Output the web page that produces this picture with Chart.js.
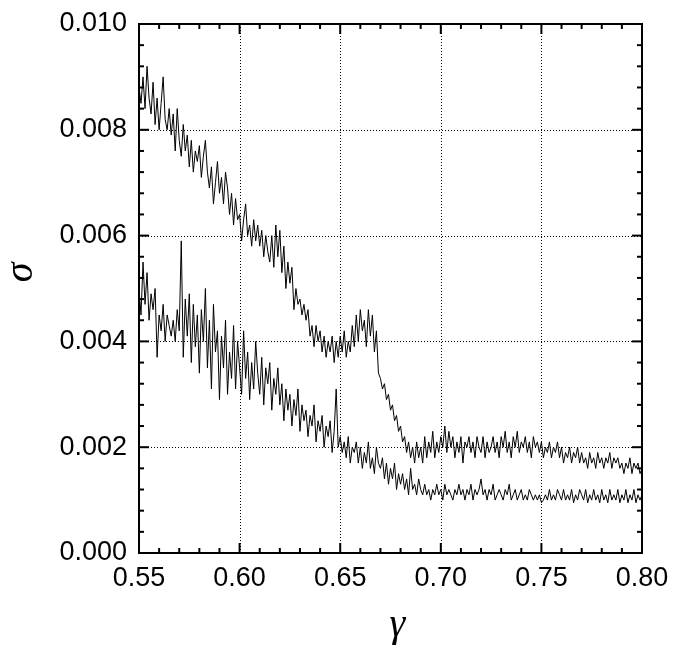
<!DOCTYPE html>
<html>
<head>
<meta charset="utf-8">
<script src="https://cdn.jsdelivr.net/npm/chart.js@4/dist/chart.umd.min.js"></script>
<style>
  html, body { margin: 0; padding: 0; background: #fff; }
  #grafico { display: block; }
</style>
</head>
<body>
<canvas id="grafico" width="673" height="652"></canvas>
<script>
// muestreo en gamma (eje x): 0.550 ... 0.800 cada 0.001
const gammaInicio = 0.55;
const gammaPaso = 0.001;

// curva superior (sigma)
const sigmaSuperior = [
  0.0088, 0.0085, 0.0090, 0.0084, 0.0092, 0.0086, 0.0083, 0.0089, 0.0081, 0.0086,
  0.0080, 0.0085, 0.0090, 0.0082, 0.0080, 0.0084, 0.0079, 0.0083, 0.0076, 0.0084,
  0.0078, 0.0075, 0.0081, 0.0076, 0.0079, 0.0073, 0.0078, 0.0072, 0.0076, 0.0074,
  0.0077, 0.0071, 0.0075, 0.0078, 0.0072, 0.0069, 0.0073, 0.0066, 0.0070, 0.0074,
  0.0068, 0.0071, 0.0066, 0.0072, 0.0069, 0.0064, 0.0068, 0.0062, 0.0067, 0.0063,
  0.0064, 0.0059, 0.0063, 0.0066, 0.0060, 0.0062, 0.0058, 0.0063, 0.0059, 0.0062,
  0.0058, 0.0061, 0.0056, 0.0060, 0.0057, 0.0055, 0.0060, 0.0054, 0.0062, 0.0056,
  0.0061, 0.0053, 0.0058, 0.0050, 0.0055, 0.0051, 0.0054, 0.0046, 0.0050, 0.0047,
  0.0048, 0.0045, 0.0047, 0.0044, 0.0046, 0.0041, 0.0043, 0.0039, 0.0043, 0.0040,
  0.0042, 0.0038, 0.0041, 0.0037, 0.0040, 0.0038, 0.0041, 0.0036, 0.0040, 0.0037,
  0.0041, 0.0038, 0.0042, 0.0037, 0.0040, 0.0038, 0.0043, 0.0039, 0.0045, 0.0040,
  0.0046, 0.0042, 0.0044, 0.0039, 0.0046, 0.0041, 0.0045, 0.0038, 0.0042, 0.0034,
  0.0033, 0.0031, 0.0032, 0.0029, 0.0030, 0.0027, 0.0028, 0.0025, 0.0026, 0.0023,
  0.0024, 0.0021, 0.0022, 0.0019, 0.0021, 0.0018, 0.0020, 0.0017, 0.0021, 0.0018,
  0.0020, 0.0017, 0.0022, 0.0018, 0.0021, 0.0019, 0.0023, 0.0018, 0.0021, 0.0019,
  0.0022, 0.0020, 0.0024, 0.0019, 0.0023, 0.0020, 0.0022, 0.0018, 0.0021, 0.0019,
  0.0022, 0.0017, 0.0021, 0.0020, 0.0022, 0.0019, 0.0021, 0.0018, 0.0022, 0.0020,
  0.0019, 0.0022, 0.0018, 0.0021, 0.0019, 0.0020, 0.0022, 0.0019, 0.0021, 0.0018,
  0.0022, 0.0020, 0.0023, 0.0019, 0.0021, 0.0018, 0.0022, 0.0020, 0.0023, 0.0019,
  0.0021, 0.0020, 0.0022, 0.0019, 0.0021, 0.0018, 0.0022, 0.0020, 0.0021, 0.0019,
  0.0021, 0.0018, 0.0020, 0.0019, 0.0021, 0.0018, 0.0020, 0.0019, 0.0021, 0.0018,
  0.0020, 0.0017, 0.0019, 0.0018, 0.0020, 0.0017, 0.0019, 0.0018, 0.0020, 0.0017,
  0.0019, 0.0017, 0.0018, 0.0016, 0.0019, 0.0017, 0.0018, 0.0016, 0.0019, 0.0017,
  0.0018, 0.0016, 0.0018, 0.0017, 0.0019, 0.0016, 0.0018, 0.0017, 0.0018, 0.0016,
  0.0017, 0.0015, 0.0017, 0.0016, 0.0018, 0.0015, 0.0017, 0.0016, 0.0017, 0.0015,
  0.0016
];

// curva inferior (sigma)
const sigmaInferior = [
  0.0050, 0.0045, 0.0055, 0.0047, 0.0053, 0.0044, 0.0049, 0.0046, 0.0050, 0.0037,
  0.0045, 0.0042, 0.0047, 0.0040, 0.0045, 0.0043, 0.0041, 0.0044, 0.0040, 0.0046,
  0.0042, 0.0059, 0.0037, 0.0048, 0.0041, 0.0049, 0.0036, 0.0047, 0.0039, 0.0045,
  0.0034, 0.0046, 0.0040, 0.0050, 0.0035, 0.0044, 0.0031, 0.0047, 0.0038, 0.0042,
  0.0029, 0.0041, 0.0035, 0.0044, 0.0030, 0.0038, 0.0033, 0.0043, 0.0031, 0.0040,
  0.0035, 0.0030, 0.0042, 0.0033, 0.0038, 0.0029, 0.0036, 0.0031, 0.0040, 0.0034,
  0.0030, 0.0037, 0.0028, 0.0035, 0.0032, 0.0036, 0.0027, 0.0033, 0.0030, 0.0035,
  0.0028, 0.0032, 0.0025, 0.0031, 0.0027, 0.0030, 0.0024, 0.0029, 0.0026, 0.0031,
  0.0023, 0.0028, 0.0025, 0.0027, 0.0022, 0.0026, 0.0024, 0.0028, 0.0021, 0.0025,
  0.0023, 0.0026, 0.0020, 0.0024, 0.0022, 0.0025, 0.0019, 0.0023, 0.0031, 0.0020,
  0.0022, 0.0019, 0.0021, 0.0018, 0.0022, 0.0017, 0.0020, 0.0019, 0.0021, 0.0017,
  0.0020, 0.0016, 0.0019, 0.0017, 0.0021, 0.0016, 0.0018, 0.0015, 0.0020, 0.0017,
  0.0016, 0.0018, 0.0014, 0.0017, 0.0013, 0.0016, 0.0014, 0.0017, 0.0012, 0.0015,
  0.0013, 0.0015, 0.0012, 0.0014, 0.0011, 0.0016, 0.0012, 0.0013, 0.0011, 0.0014,
  0.0012, 0.0011, 0.0013, 0.0011, 0.0012, 0.0010, 0.0012, 0.0011, 0.0013, 0.0011,
  0.0012, 0.0010, 0.0013, 0.0011, 0.0012, 0.0011, 0.0010, 0.0012, 0.0011, 0.0013,
  0.0011, 0.0012, 0.0010, 0.0012, 0.0011, 0.0013, 0.0010, 0.0012, 0.0011, 0.0012,
  0.0014, 0.0011, 0.0012, 0.0010, 0.0012, 0.0011, 0.0013, 0.0010, 0.0011, 0.0012,
  0.0011, 0.0010, 0.0012, 0.0011, 0.0013, 0.0010, 0.0011, 0.0012, 0.0010, 0.0011,
  0.0012, 0.0010, 0.0011, 0.0010, 0.0012, 0.0011, 0.0010, 0.0011, 0.0010, 0.0011,
  0.00095, 0.0010, 0.0011, 0.0010, 0.0012, 0.0010, 0.0011, 0.0010, 0.0012, 0.0011,
  0.0010, 0.0012, 0.0010, 0.0011, 0.0010, 0.0012, 0.00095, 0.0011, 0.0010, 0.0012,
  0.0011, 0.0010, 0.0012, 0.00095, 0.0011, 0.0010, 0.0012, 0.0010, 0.0011, 0.00095,
  0.0012, 0.0010, 0.0011, 0.00095, 0.0012, 0.0010, 0.0011, 0.0010, 0.0012, 0.00095,
  0.0011, 0.0010, 0.0012, 0.00095, 0.0011, 0.0010, 0.0012, 0.00095, 0.0011, 0.0010,
  0.0011
];

// etiquetas de los ejes
const ticksX = [0.55, 0.60, 0.65, 0.70, 0.75, 0.80];
const ticksY = [0, 0.002, 0.004, 0.006, 0.008, 0.010];
const pasoMenorX = 0.01;
const pasoMenorY = 0.0004;

const fuente = "'Liberation Sans', Arial, sans-serif";
const fuenteGriega = "'Liberation Serif', 'Times New Roman', serif";

function aPuntos(serie) {
  return serie.map((v, i) => ({ x: gammaInicio + i * gammaPaso, y: v }));
}

// rejilla punteada, marco y marcas hacia adentro
const marcoPlugin = {
  id: "marco",
  beforeDatasetsDraw(chart) {
    const { ctx, chartArea: a, scales: { x, y } } = chart;
    ctx.save();
    ctx.strokeStyle = "#000";
    ctx.lineWidth = 1;
    ctx.setLineDash([1, 2]);
    ticksX.slice(1, -1).forEach(v => {
      const px = Math.round(x.getPixelForValue(v)) + 0.5;
      ctx.beginPath();
      ctx.moveTo(px, a.top);
      ctx.lineTo(px, a.bottom);
      ctx.stroke();
    });
    ticksY.slice(1, -1).forEach(v => {
      const py = Math.round(y.getPixelForValue(v)) + 0.5;
      ctx.beginPath();
      ctx.moveTo(a.left, py);
      ctx.lineTo(a.right, py);
      ctx.stroke();
    });
    ctx.restore();
  },
  afterDatasetsDraw(chart) {
    const { ctx, chartArea: a, scales: { x, y } } = chart;
    ctx.save();
    ctx.strokeStyle = "#000";
    ctx.lineWidth = 2;
    ctx.setLineDash([]);
    ctx.strokeRect(a.left, a.top, a.right - a.left, a.bottom - a.top);

    const marca = (x1, y1, x2, y2) => {
      ctx.beginPath();
      ctx.moveTo(x1, y1);
      ctx.lineTo(x2, y2);
      ctx.stroke();
    };

    // eje x: menores cada 0.01, mayores en ticksX
    for (let i = 0; i <= Math.round((x.max - x.min) / pasoMenorX); i++) {
      const px = x.getPixelForValue(x.min + i * pasoMenorX);
      const largo = i % 5 === 0 ? 10 : 5;
      marca(px, a.bottom, px, a.bottom - largo);
      marca(px, a.top, px, a.top + largo);
    }
    // eje y: menores cada 0.0004, mayores en ticksY
    for (let i = 0; i <= Math.round((y.max - y.min) / pasoMenorY); i++) {
      const py = y.getPixelForValue(y.min + i * pasoMenorY);
      const largo = i % 5 === 0 ? 10 : 5;
      marca(a.left, py, a.left + largo, py);
      marca(a.right, py, a.right - largo, py);
    }
    ctx.restore();
  },
  afterDraw(chart) {
    const { ctx, chartArea: a } = chart;
    ctx.save();
    ctx.fillStyle = "#000";
    ctx.font = "italic 40px " + fuenteGriega;
    ctx.textAlign = "center";
    ctx.textBaseline = "alphabetic";
    ctx.fillText("γ", (a.left + a.right) / 2 + 7, 636);
    ctx.translate(32, (a.top + a.bottom) / 2 - 16);
    ctx.rotate(-Math.PI / 2);
    ctx.fillText("σ", 0, 0);
    ctx.restore();
  }
};

const ctx = document.getElementById("grafico").getContext("2d");
const chart = new Chart(ctx, {
  type: "scatter",
  data: {
    datasets: [
      {
        label: "superior",
        data: aPuntos(sigmaSuperior),
        showLine: true,
        borderColor: "#000",
        borderWidth: 1,
        pointRadius: 0,
        tension: 0
      },
      {
        label: "inferior",
        data: aPuntos(sigmaInferior),
        showLine: true,
        borderColor: "#000",
        borderWidth: 1,
        pointRadius: 0,
        tension: 0
      }
    ]
  },
  options: {
    responsive: false,
    animation: false,
    devicePixelRatio: 1,
    layout: { padding: { top: 24, right: 31, left: 0, bottom: 0 } },
    plugins: {
      legend: { display: false },
      tooltip: { enabled: false }
    },
    scales: {
      x: {
        type: "linear",
        min: 0.55,
        max: 0.80,
        afterBuildTicks: s => { s.ticks = ticksX.map(v => ({ value: v })); },
        afterFit: s => {
          s.height = 99;
          s.paddingLeft = 0;
          s.paddingRight = 0;
        },
        grid: { display: false, drawTicks: false },
        border: { display: false },
        ticks: {
          callback: v => v.toFixed(2),
          color: "#000",
          font: { family: fuente, size: 27 },
          padding: 9,
          maxRotation: 0,
          autoSkip: false
        }
      },
      y: {
        type: "linear",
        min: 0,
        max: 0.010,
        afterBuildTicks: s => { s.ticks = ticksY.map(v => ({ value: v })); },
        afterFit: s => {
          s.width = 139;
          s.paddingTop = 0;
          s.paddingBottom = 0;
        },
        grid: { display: false, drawTicks: false },
        border: { display: false },
        ticks: {
          callback: v => v.toFixed(3),
          color: "#000",
          font: { family: fuente, size: 27 },
          padding: 12,
          autoSkip: false
        }
      }
    }
  },
  plugins: [marcoPlugin]
});
</script>
</body>
</html>
